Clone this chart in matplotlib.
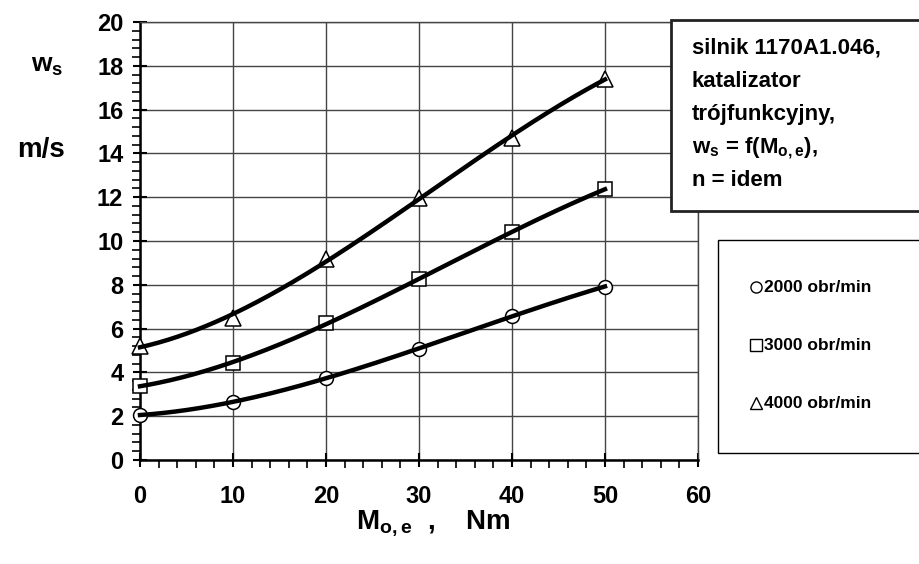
import numpy as np
import matplotlib
matplotlib.use("Agg")
import matplotlib.pyplot as plt
from matplotlib.patches import Rectangle
from matplotlib.ticker import MultipleLocator

plt.rcParams['font.family'] = ['Liberation Sans', 'DejaVu Sans']
plt.rcParams['font.weight'] = 'bold'
plt.rcParams['mathtext.fontset'] = 'custom'
plt.rcParams['mathtext.rm'] = 'Liberation Sans:bold'
plt.rcParams['mathtext.it'] = 'Liberation Sans:bold'
plt.rcParams['mathtext.bf'] = 'Liberation Sans:bold'

# measured points, torque M_o,e [Nm] vs w_s [m/s]
moment = [0, 10, 20, 30, 40, 50]
ws_2000 = [2.05, 2.66, 3.74, 5.07, 6.58, 7.92]
ws_3000 = [3.38, 4.43, 6.25, 8.26, 10.4, 12.37]
ws_4000 = [5.2, 6.5, 9.2, 11.96, 14.7, 17.42]
series_labels = ['2000 obr/min', '3000 obr/min', '4000 obr/min']
markers = ['o', 's', '^']
msizes = [10, 9.5, 11]

fig = plt.figure(figsize=(9.2, 5.64), dpi=100)
ax = fig.add_axes([140/920, 1-460/564, (698-140)/920, (460-22)/564])

x = np.array(moment)
xs = np.linspace(0, 50, 200)
for ys, m, ms in zip([ws_2000, ws_3000, ws_4000], markers, msizes):
    # trend line through the measured points (spreadsheet style)
    coef = np.polyfit(x, ys, 3)
    ax.plot(xs, np.polyval(coef, xs), color='black', lw=3.2, zorder=4,
            clip_on=False)
    ax.plot(x, ys, m, ms=ms, mfc='white', mec='black',
            mew=1.1, zorder=3, clip_on=False)

ax.set_xlim(0, 60)
ax.set_ylim(0, 20)
ax.xaxis.set_major_locator(MultipleLocator(10))
ax.xaxis.set_minor_locator(MultipleLocator(2))
ax.yaxis.set_major_locator(MultipleLocator(2))
ax.yaxis.set_minor_locator(MultipleLocator(0.4))
ax.grid(True, which='major', color='#444444', lw=1.0)
ax.set_axisbelow(True)
ax.tick_params(which='major', direction='inout', length=10, width=1.5,
               labelsize=17, pad=7)
ax.tick_params(axis='x', which='major', pad=13)
ax.tick_params(which='minor', direction='out', length=6, width=1.2)
for s in ['left', 'bottom']:
    ax.spines[s].set_linewidth(1.8)
for s in ['top', 'right']:
    ax.spines[s].set_linewidth(1.0)
    ax.spines[s].set_color('#444444')
for lb in ax.get_xticklabels() + ax.get_yticklabels():
    lb.set_fontweight('bold')

fig.text(433/920, 1-523/564, r'M$_{\mathregular{o,e}}$  ,    Nm', ha='center',
         va='center', fontsize=20, fontweight='bold')
fig.text(47/920, 1-66/564, r'w$_{\mathregular{s}}$', ha='center',
         va='center', fontsize=19, fontweight='bold')
fig.text(41/920, 1-150/564, 'm/s', ha='center', va='center',
         fontsize=20, fontweight='bold')

# description box
fig.patches.append(Rectangle((671/920, 1-211/564), 260/920, 191/564,
                             transform=fig.transFigure, fc='white',
                             ec='#222222', lw=2.0, zorder=10))
box_lines = ['silnik 1170A1.046,', 'katalizator', 'trójfunkcyjny,',
             r'w$_{\mathregular{s}}$ = f(M$_{\mathregular{o,e}}$),',
             'n = idem']
for i, t in enumerate(box_lines):
    fig.text(692/920, 1-(48 + i*33.2)/564, t, ha='left', va='center',
             fontsize=16, fontweight='bold', zorder=11)

# legend box
fig.patches.append(Rectangle((718/920, 1-453/564), 210/920, 213/564,
                             transform=fig.transFigure, fc='white',
                             ec='black', lw=1.0, zorder=10))
leg_ax = fig.add_axes([718/920, 1-453/564, 202/920, 213/564], zorder=12)
leg_ax.set_xlim(718, 920)
leg_ax.set_ylim(453, 240)
leg_ax.axis('off')
for i, (lbl, m) in enumerate(zip(series_labels, markers)):
    yy = 287 + i*58
    leg_ax.plot([756], [yy], m, ms=8, mfc='white', mec='black', mew=1.0)
    leg_ax.text(764, yy, lbl, ha='left', va='center', fontsize=12.5,
                fontweight='bold')

fig.savefig('out.png', dpi=100)
